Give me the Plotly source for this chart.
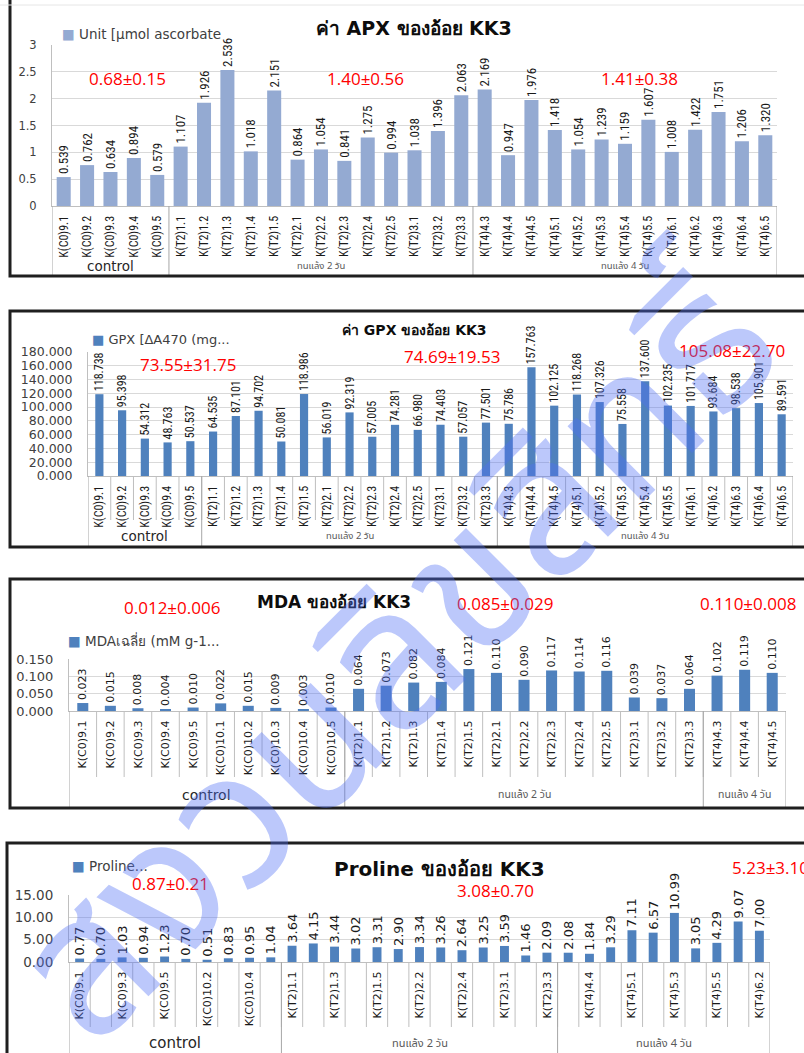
import plotly.graph_objects as go

W, H = 804, 1053

# ---------------- data ----------------
apx_categories = ["K(C0)9.1", "K(C0)9.2", "K(C0)9.3", "K(C0)9.4", "K(C0)9.5",
                  "K(T2)1.1", "K(T2)1.2", "K(T2)1.3", "K(T2)1.4", "K(T2)1.5",
                  "K(T2)2.1", "K(T2)2.2", "K(T2)2.3", "K(T2)2.4", "K(T2)2.5",
                  "K(T2)3.1", "K(T2)3.2", "K(T2)3.3",
                  "K(T4)4.3", "K(T4)4.4", "K(T4)4.5",
                  "K(T4)5.1", "K(T4)5.2", "K(T4)5.3", "K(T4)5.4", "K(T4)5.5",
                  "K(T4)6.1", "K(T4)6.2", "K(T4)6.3", "K(T4)6.4", "K(T4)6.5"]
apx_values = [0.539, 0.762, 0.634, 0.894, 0.579,
              1.107, 1.926, 2.536, 1.018, 2.151,
              0.864, 1.054, 0.841, 1.275, 0.994,
              1.038, 1.396, 2.063,
              2.169, 0.947, 1.976,
              1.418, 1.054, 1.239, 1.159, 1.607,
              1.008, 1.422, 1.751, 1.206, 1.320]
apx_group_sizes = [5, 13, 13]
apx_stats = ["0.68±0.15", "1.40±0.56", "1.41±0.38"]

gpx_categories = list(apx_categories)
gpx_values = [118.738, 95.398, 54.312, 48.763, 50.537,
              64.535, 87.101, 94.702, 50.081, 118.986,
              56.019, 92.319, 57.005, 74.281, 66.980,
              74.403, 57.057, 77.501,
              75.786, 157.763, 102.125,
              118.268, 107.326, 75.558, 137.600, 102.235,
              101.717, 93.684, 98.538, 105.901, 89.591]
gpx_group_sizes = [5, 13, 13]
gpx_stats = ["73.55±31.75", "74.69±19.53", "105.08±22.70"]

mda_categories = ["K(C0)9.1", "K(C0)9.2", "K(C0)9.3", "K(C0)9.4", "K(C0)9.5",
                  "K(C0)10.1", "K(C0)10.2", "K(C0)10.3", "K(C0)10.4", "K(C0)10.5",
                  "K(T2)1.1", "K(T2)1.2", "K(T2)1.3", "K(T2)1.4", "K(T2)1.5",
                  "K(T2)2.1", "K(T2)2.2", "K(T2)2.3", "K(T2)2.4", "K(T2)2.5",
                  "K(T2)3.1", "K(T2)3.2", "K(T2)3.3",
                  "K(T4)4.3", "K(T4)4.4", "K(T4)4.5"]
mda_values = [0.023, 0.015, 0.008, 0.004, 0.010,
              0.022, 0.015, 0.009, 0.003, 0.010,
              0.064, 0.073, 0.082, 0.084, 0.121,
              0.110, 0.090, 0.117, 0.114, 0.116,
              0.039, 0.037, 0.064,
              0.102, 0.119, 0.110]
mda_group_sizes = [10, 13, 3]
mda_stats = ["0.012±0.006", "0.085±0.029", "0.110±0.008"]

pro_categories = ["K(C0)9.1", "K(C0)9.2", "K(C0)9.3", "K(C0)9.4", "K(C0)9.5",
                  "K(C0)10.1", "K(C0)10.2", "K(C0)10.3", "K(C0)10.4", "K(C0)10.5",
                  "K(T2)1.1", "K(T2)1.2", "K(T2)1.3", "K(T2)1.4", "K(T2)1.5",
                  "K(T2)2.1", "K(T2)2.2", "K(T2)2.3", "K(T2)2.4", "K(T2)2.5",
                  "K(T2)3.1", "K(T2)3.2", "K(T2)3.3",
                  "K(T4)4.3", "K(T4)4.4", "K(T4)4.5",
                  "K(T4)5.1", "K(T4)5.2", "K(T4)5.3", "K(T4)5.4", "K(T4)5.5",
                  "K(T4)6.1", "K(T4)6.2"]
pro_values = [0.77, 0.70, 1.03, 0.94, 1.23, 0.70, 0.51, 0.83, 0.95, 1.04,
              3.64, 4.15, 3.44, 3.02, 3.31, 2.90, 3.34, 3.26, 2.64, 3.25,
              3.59, 1.46, 2.09,
              2.08, 1.84, 3.29, 7.11, 6.57, 10.99, 3.05, 4.29, 9.07, 7.00]
pro_group_sizes = [10, 13, 10]
pro_tick_labels = ["K(C0)9.1", "K(C0)9.3", "K(C0)9.5", "K(C0)10.2", "K(C0)10.4",
                   "K(T2)1.1", "K(T2)1.3", "K(T2)1.5", "K(T2)2.2", "K(T2)2.4",
                   "K(T2)3.1", "K(T2)3.3", "K(T4)4.4", "K(T4)5.1", "K(T4)5.3",
                   "K(T4)5.5", "K(T4)6.2"]
pro_stats = ["0.87±0.21", "3.08±0.70", "5.23±3.10"]

group_names = ["control", "ทนแล้ง 2 วัน", "ทนแล้ง 4 วัน"]

# ---------------- styling / layout (pixels) ----------------
NARROW = "Liberation Sans Narrow, Arial Narrow, Roboto Condensed, sans-serif"
VERD = "DejaVu Sans, Verdana, sans-serif"
CAL = "Open Sans, Lato, sans-serif"
THAI = "Tahoma, Noto Sans Thai, Loma, Garuda, DejaVu Sans, sans-serif"

def px(x):
    return x / W

def py(y):
    return 1 - y / H

panels = [
    dict(cats=apx_categories, vals=apx_values, sizes=apx_group_sizes, stats=apx_stats,
         color="#94aad2", width=0.6, fmt="%{y:.3f}",
         x0=52, x1=777, yt=45, yb=206, cellb=None, boxb=276,
         yrange=[0, 3], dtick=0.5, tickformat="", ytfont=11.5,
         tickfont=dict(family=NARROW, size=12, color="#1a1a1a"),
         textfont=dict(family=NARROW, size=13, color="#1a1a1a"),
         title="<b>ค่า APX ของอ้อย KK3</b>", title_xy=(414, 28), title_size=19,
         legend="Unit [µmol ascorbate", legend_xy=(60, 34), legend_size=13.5,
         stat_xy=[(87, 78), (325, 78), (599, 78)],
         group_y=266, group_sizes_font=[13.5, 9.5, 9.5],
         box=(10, -5, 812, 276), tickvals=None),
    dict(cats=gpx_categories, vals=gpx_values, sizes=gpx_group_sizes, stats=gpx_stats,
         color="#4f81bd", width=0.36, fmt="%{y:.3f}",
         x0=88, x1=793, yt=352, yb=476, cellb=520, boxb=547,
         yrange=[0, 180], dtick=20, tickformat=".3f", ytfont=12.5,
         tickfont=dict(family=NARROW, size=12, color="#1a1a1a"),
         textfont=dict(family=NARROW, size=12, color="#1a1a1a"),
         title="<b>ค่า GPX ของอ้อย KK3</b>", title_xy=(415, 330), title_size=14,
         legend="GPX [ΔA470 (mg...", legend_xy=(90, 339), legend_size=13,
         stat_xy=[(138, 364), (402, 356), (677, 350)],
         group_y=536, group_sizes_font=[13.5, 9.5, 9.5],
         box=(10, 311, 812, 547), tickvals=None),
    dict(cats=mda_categories, vals=mda_values, sizes=mda_group_sizes, stats=mda_stats,
         color="#4f81bd", width=0.4, fmt="%{y:.3f}",
         x0=69, x1=786, yt=659, yb=711, cellb=777, boxb=808,
         yrange=[0, 0.15], dtick=0.05, tickformat=".3f", ytfont=13,
         tickfont=dict(family=VERD, size=11, color="#1a1a1a"),
         textfont=dict(family=VERD, size=11, color="#1a1a1a"),
         title="<b>MDA ของอ้อย KK3</b>", title_xy=(334, 602), title_size=17,
         legend="MDAเฉลี่ย (mM g-1...", legend_xy=(66, 640), legend_size=13.5,
         stat_xy=[(122, 607), (455, 603), (698, 603)],
         group_y=795, group_sizes_font=[14, 10.5, 10.5],
         box=(10, 579, 812, 808), tickvals=None),
    dict(cats=pro_categories, vals=pro_values, sizes=pro_group_sizes, stats=pro_stats,
         color="#4f81bd", width=0.42, fmt="%{y:.2f}",
         x0=69, x1=770, yt=895, yb=962, cellb=1027, boxb=1060,
         yrange=[0, 15], dtick=5, tickformat=".2f", ytfont=13.5,
         tickfont=dict(family=VERD, size=11, color="#1a1a1a"),
         textfont=dict(family=VERD, size=13, color="#1a1a1a"),
         title="<b>Proline ของอ้อย KK3</b>", title_xy=(440, 869), title_size=20,
         legend="Proline...", legend_xy=(70, 866), legend_size=13.5,
         stat_xy=[(130, 883), (455, 890), (730, 868)],
         group_y=1043, group_sizes_font=[15, 11, 11],
         box=(7, 843, 812, 1062), tickvals=pro_tick_labels),
]

fig = go.Figure()
shapes = []
annotations = []
layout_axes = {}

for i, p in enumerate(panels, start=1):
    xa = "x" if i == 1 else f"x{i}"
    ya = "y" if i == 1 else f"y{i}"
    xname = "xaxis" if i == 1 else f"xaxis{i}"
    yname = "yaxis" if i == 1 else f"yaxis{i}"
    n = len(p["cats"])

    fig.add_trace(go.Bar(
        x=p["cats"], y=p["vals"], xaxis=xa, yaxis=ya,
        marker=dict(color=p["color"], line=dict(width=0)),
        width=p["width"], texttemplate=p["fmt"], textposition="outside",
        textangle=-90, textfont=p["textfont"], constraintext="none",
        cliponaxis=False, showlegend=False, hoverinfo="x+y"))

    xdict = dict(domain=[px(p["x0"]), px(p["x1"])], anchor=ya, type="category",
                 tickangle=-90, tickfont=p["tickfont"], showline=True,
                 linecolor="#bfbfbf", linewidth=1, showgrid=False, ticks="",
                 ticklabelstandoff=4, automargin=False,
                 range=[-0.5, n - 0.5], fixedrange=True)
    if p["tickvals"] is not None:
        xdict.update(tickmode="array", tickvals=p["tickvals"], ticktext=p["tickvals"])
    layout_axes[xname] = xdict

    ydict = dict(domain=[py(p["yb"]), py(p["yt"])], anchor=xa, range=p["yrange"],
                 dtick=p["dtick"], tick0=0, showgrid=True, gridcolor="#d9d9d9",
                 gridwidth=1, showline=True, linecolor="#bfbfbf", zeroline=False,
                 tickfont=dict(family=VERD, size=p["ytfont"], color="#404040"),
                 ticks="", ticklabelstandoff=12, automargin=False, fixedrange=True)
    if p["tickformat"]:
        ydict["tickformat"] = p["tickformat"]
    layout_axes[yname] = ydict

    # category cell dividers
    if p["cellb"] is not None:
        for k in range(1, n):
            shapes.append(dict(type="line", xref=xa, yref="paper",
                               x0=k - 0.5, x1=k - 0.5, y0=py(p["yb"]), y1=py(p["cellb"]),
                               line=dict(color="#bfbfbf", width=1)))
    # group dividers + group labels
    start = 0
    bounds = [-0.5]
    for g, size in enumerate(p["sizes"]):
        end = start + size
        bounds.append(end - 0.5)
        annotations.append(dict(xref=xa, yref="paper", x=(start + end - 1) / 2,
                                y=py(p["group_y"]), text=group_names[g], showarrow=False,
                                xanchor="center", yanchor="middle",
                                font=dict(family=VERD if g == 0 else THAI,
                                          size=p["group_sizes_font"][g],
                                          color="#262626" if g == 0 else "#595959")))
        start = end
    for b in bounds:
        shapes.append(dict(type="line", xref=xa, yref="paper", x0=b, x1=b,
                           y0=py(p["yb"]), y1=py(p["boxb"]),
                           line=dict(color="#a6a6a6", width=1)))

    # panel frame
    bx0, by0, bx1, by1 = p["box"]
    shapes.append(dict(type="rect", xref="paper", yref="paper",
                       x0=px(bx0), x1=px(bx1), y0=py(by1), y1=py(by0),
                       line=dict(color="#1f1f1f", width=3), fillcolor="rgba(0,0,0,0)",
                       layer="above"))

    # title
    tx, ty = p["title_xy"]
    annotations.append(dict(xref="paper", yref="paper", x=px(tx), y=py(ty),
                            text=p["title"], showarrow=False, xanchor="center",
                            yanchor="middle",
                            font=dict(family="DejaVu Sans, Verdana, Tahoma, sans-serif",
                                      size=p["title_size"], color="#0d0d0d")))
    # legend (marker square + series name)
    lx, ly = p["legend_xy"]
    annotations.append(dict(xref="paper", yref="paper", x=px(lx), y=py(ly),
                            text=f'<span style="color:{p["color"]}">■</span> {p["legend"]}',
                            showarrow=False, xanchor="left", yanchor="middle",
                            font=dict(family=VERD, size=p["legend_size"], color="#404040")))
    # red statistics
    for s, (sx, sy) in zip(p["stats"], p["stat_xy"]):
        annotations.append(dict(xref="paper", yref="paper", x=px(sx), y=py(sy),
                                text=s, showarrow=False, xanchor="left",
                                yanchor="middle",
                                font=dict(family=CAL, size=17, color="#ff0000")))

# faint page line at top
shapes.append(dict(type="line", xref="paper", yref="paper", x0=0, x1=1,
                   y0=py(5), y1=py(5), line=dict(color="#e6e6e6", width=1)))

# watermark
annotations.append(dict(xref="paper", yref="paper", x=px(400), y=py(660),
                        text="สงวนลิขสิทธิ์", showarrow=False, textangle=-45,
                        xanchor="center", yanchor="middle",
                        font=dict(family=THAI, size=195, color="rgba(80,110,245,0.38)")))

fig.update_layout(
    width=W, height=H, margin=dict(l=0, r=0, t=0, b=0, pad=0, autoexpand=False),
    paper_bgcolor="white", plot_bgcolor="white",
    font=dict(family=VERD, color="#1a1a1a"),
    shapes=shapes, annotations=annotations, showlegend=False,
    **layout_axes)

fig.write_html("out.html", config={"displayModeBar": False},
               post_script="document.body.style.margin='0';document.body.style.overflow='hidden';")
